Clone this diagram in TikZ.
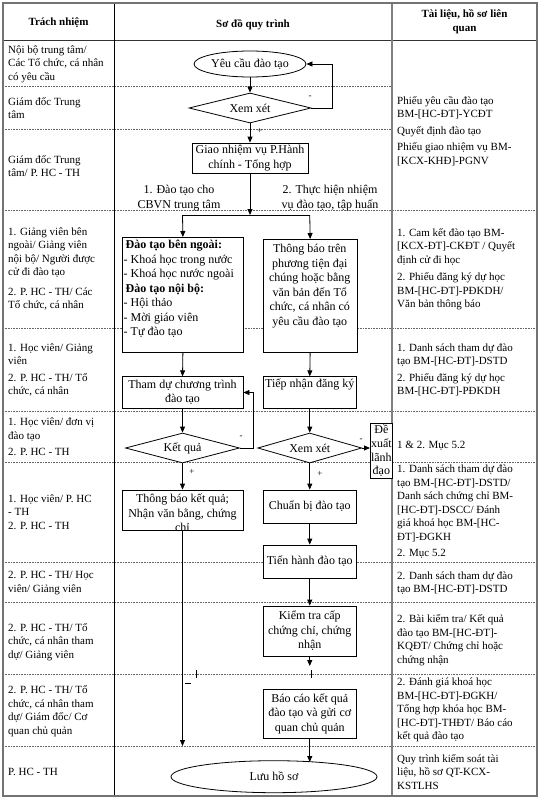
\documentclass[tikz,border=0pt]{standalone}
\usepackage{fontspec}
\setmainfont{Liberation Serif}
\usetikzlibrary{shapes.geometric,arrows.meta,calc}
\begin{document}
\begin{tikzpicture}[x=1pt,y=-1pt,
  tab/.style={font=\fontsize{11pt}{13.5pt}\selectfont, align=left, inner sep=0pt, anchor=west},
  hdr/.style={font=\fontsize{11pt}{14pt}\selectfont\bfseries, align=center, inner sep=0pt},
  flow/.style={font=\fontsize{12pt}{14.5pt}\selectfont},
  fbox/.style={flow, draw, fill=white, line width=0.8pt, align=center, inner sep=1pt},
  fdia/.style={flow, draw, fill=white, line width=0.8pt, diamond, aspect=3.5, inner sep=0pt},
  fell/.style={flow, draw, fill=white, line width=0.8pt, ellipse, inner sep=0pt},
  arr/.style={line width=0.8pt, -{Triangle[length=6pt,width=5pt]}},
  ln/.style={line width=0.8pt},
  sepline/.style={densely dotted, line width=0.6pt, black!60},
  lbl/.style={flow, inner sep=0pt, align=center},
  sgn/.style={font=\fontsize{9pt}{10pt}\selectfont, inner sep=0pt}
]
\useasboundingbox (0,0) rectangle (541,800);
\fill[white] (0,0) rectangle (541,800);

% row separators
\foreach \yy in {86,129} \draw[sepline] (3,\yy) -- (392,\yy);
\foreach \yy in {210,328,411,462,562,602,674,746} \draw[sepline] (3,\yy) -- (537,\yy);

% table frame
\draw[line width=0.6pt, black!80] (3,40) -- (537,40);
\draw[line width=0.8pt] (114,3) -- (114,796);
\draw[line width=1.2pt, black!50] (392,3) -- (392,796);
\draw[line width=1.2pt, black!55] (3,3) rectangle (537,796);

% header
\node[hdr] (h1) at (58.5,23) {Trách nhiệm};
\node[hdr] (h2) at (253,25) {Sơ đồ quy trình};
\node[hdr] (h3) at (464.5,22) {Tài liệu, hồ sơ liên\\quan};

% left column
\node[tab] (l1) at (8,64) {Nội bộ trung tâm/\\Các Tổ chức, cá nhân\\có yêu cầu};
\node[tab] (l2) at (8,108) {Giám đốc Trung\\tâm};
\node[tab] (l3) at (8,166) {Giám đốc Trung\\tâm/ P. HC - TH};
\node[tab] (l4) at (8,269) {1. Giảng viên bên\\ngoài/ Giảng viên\\nội bộ/ Người được\\cử đi đào tạo\\[6pt]2. P. HC - TH/ Các\\Tổ chức, cá nhân};
\node[tab] (l5) at (8,370) {1. Học viên/ Giảng\\viên\\[3pt]2. P. HC - TH/ Tổ\\chức, cá nhân};
\node[tab] (l6) at (8,437) {1. Học viên/ đơn vị\\đào tạo\\[3pt]2. P. HC - TH};
\node[tab] (l7) at (8,512) {1. Học viên/ P. HC\\- TH\\2. P. HC - TH};
\node[tab] (l8) at (8,583) {2. P. HC - TH/ Học\\viên/ Giảng viên};
\node[tab] (l9) at (8,642) {2. P. HC - TH/ Tổ\\chức, cá nhân tham\\dự/ Giảng viên};
\node[tab] (l10) at (8,711) {2. P. HC - TH/ Tổ\\chức, cá nhân tham\\dự/ Giám đốc/ Cơ\\quan chủ quản};
\node[tab] (l11) at (8,772) {P. HC - TH};

% right column
\node[tab] (r1) at (397,131) {Phiếu yêu cầu đào tạo\\BM-[HC-ĐT]-YCĐT\\[3pt]Quyết định đào tạo\\[3pt]Phiếu giao nhiệm vụ BM-\\{[}KCX-KHĐ]-PGNV};
\node[tab] (r4) at (397,269) {1. Cam kết đào tạo BM-\\{[}KCX-ĐT]-CKĐT / Quyết\\định cử đi học\\[4pt]2. Phiếu đăng ký dự học\\BM-[HC-ĐT]-PĐKDH/\\Văn bản thông báo};
\node[tab] (r5) at (397,370) {1. Danh sách tham dự đào\\tạo BM-[HC-ĐT]-DSTD\\[3pt]2. Phiếu đăng ký dự học\\BM-[HC-ĐT]-PĐKDH};
\node[tab] (r6) at (397,446) {1 \& 2. Mục 5.2};
\node[tab] (r7) at (397,512) {1. Danh sách tham dự đào\\tạo BM-[HC-ĐT]-DSTD/\\Danh sách chứng chỉ BM-\\{[}HC-ĐT]-DSCC/ Đánh\\giá khoá học BM-[HC-\\ĐT]-ĐGKH\\[3pt]2. Mục 5.2};
\node[tab] (r8) at (397,583) {2. Danh sách tham dự đào\\tạo BM-[HC-ĐT]-DSTD};
\node[tab] (r9) at (397,640) {2. Bài kiểm tra/ Kết quả\\đào tạo BM-[HC-ĐT]-\\KQĐT/ Chứng chỉ hoặc\\chứng nhận};
\node[tab] (r10) at (397,710) {2. Đánh giá khoá học\\BM-[HC-ĐT]-ĐGKH/\\Tổng hợp khóa học BM-\\{[}HC-ĐT]-THĐT/ Báo cáo\\kết quả đào tạo};
\node[tab] (r11) at (397,772) {Quy trình kiểm soát tài\\liệu, hồ sơ QT-KCX-\\KSTLHS};

% flow nodes
\node[fell, minimum width=112pt, minimum height=26pt] (ell1) at (250,64) {Yêu cầu đào tạo};
\node[fdia, minimum width=122pt, minimum height=30pt] (d1) at (250,108) {Xem xét};
\node[fbox, minimum width=116pt, minimum height=30pt] (giao) at (250,158) {Giao nhiệm vụ P.Hành\\chính - Tổng hợp};
\node[lbl] (lb1) at (179,198) {1. Đào tạo cho\\CBVN trung tâm};
\node[lbl] (lb2) at (330,198) {2. Thực hiện nhiệm\\vụ đào tạo, tập huấn};
\coordinate (junc) at (250,215);
\coordinate (brL) at (182.5,215);
\coordinate (brR) at (309.75,215);

\node[fbox, anchor=north west, minimum width=121pt, minimum height=115pt] (boxA) at (122,237) {};
\node[flow, anchor=north west, align=left, inner sep=0pt] (boxAt) at (123.5,240) {\hspace*{2pt}\textbf{Đào tạo bên ngoài:}\\- Khoá học trong nước\\- Khoá học nước ngoài\\\hspace*{2pt}\textbf{Đào tạo nội bộ:}\\- Hội thảo\\- Mời giáo viên\\- Tự đào tạo};
\node[fbox, anchor=north west, minimum width=93.5pt, minimum height=113pt] (boxB) at (263,239) {};
\node[flow, anchor=north, align=center, inner sep=0pt] (boxBt) at (309.75,244) {Thông báo trên\\phương tiện đại\\chúng hoặc bằng\\văn bản đến Tổ\\chức, cá nhân có\\yêu cầu đào tạo};

\node[fbox, minimum width=121pt, minimum height=31.5pt] (thamdu) at (182.5,392.5) {Tham dự chương trình\\đào tạo};
\node[fbox, minimum width=93.5pt, minimum height=31.5pt] (tiepnhan) at (309.75,392.5) {Tiếp nhận đăng ký\\\strut};

\node[fdia, minimum width=114pt, minimum height=30pt] (d2) at (182.5,448) {Kết quả};
\node[fdia, minimum width=104pt, minimum height=30pt] (d3) at (309.75,448) {Xem xét};
\node[fbox, anchor=north west, minimum width=22pt, minimum height=55pt, inner sep=0pt, font=\fontsize{12pt}{13.6pt}\selectfont] (dexuat) at (370,423) {Đề\\xuất\\lãnh\\đạo};

\node[fbox, minimum width=121pt, minimum height=40pt] (thongbao) at (182.5,510) {};
\node[lbl] (thongbaot) at (182.5,513) {Thông báo kết quả;\\Nhận văn bằng, chứng\\chỉ};
\node[fbox, minimum width=93.5pt, minimum height=33pt] (chuanbi) at (309.75,506.5) {Chuẩn bị đào tạo};
\node[fbox, minimum width=93.5pt, minimum height=33pt] (tienhanh) at (309.75,561.5) {Tiến hành đào tạo};
\node[fbox, minimum width=93.5pt, minimum height=50pt] (kiemtra) at (309.75,631) {Kiểm tra cấp\\chứng chỉ, chứng\\nhận};
\node[fbox, minimum width=93.5pt, minimum height=49pt] (baocao) at (309.75,713.5) {Báo cáo kết quả\\đào tạo và gửi cơ\\quan chủ quản};
\node[fell, minimum width=206pt, minimum height=32pt] (luu) at (274,776.7) {Lưu hồ sơ};

\coordinate (endL) at (182.5,746);
\coordinate (kEnd) at (309.75,666);
\coordinate (luuTop) at (309.75,762);

% connectors
\draw[arr] (ell1.south) -- (d1.north);
\draw[arr] (d1.east) -- ++(21,0) |- (ell1.east);
\draw[arr] (d1.south) -- (giao.north);
\draw[arr] (giao.south) -- (junc);
\draw[ln] (brL) -- (brR);
\draw[arr] (brL) -- (boxA.north);
\draw[arr] (brR) -- (boxB.north);
\draw[arr] (boxA.south) -- (thamdu.north);
\draw[arr] (boxB.south) -- (tiepnhan.north);
\draw[arr] (thamdu.south) -- (d2.north);
\draw[arr] (tiepnhan.south) -- (d3.north);
\draw[arr] (d2.east) -- ++(13,0) |- (thamdu.east);
\draw[arr] (d3.east) -- (d3.east -| dexuat.west);
\draw[arr] (d2.south) -- (thongbao.north);
\draw[arr] (d3.south) -- (chuanbi.north);
\draw[arr] (thongbao.south) -- (endL);
\draw[arr] (chuanbi.south) -- (tienhanh.north);
\draw[arr] (tienhanh.south) -- (kiemtra.north);
\draw[arr] (kiemtra.south) -- (kEnd);
\draw[arr] (baocao.south) -- (luuTop);

% small marks
\draw[ln] (196,670) -- (196,678);
\draw[ln] (311,670) -- (311,678);
\draw[line width=0.5pt] (185,683) -- (191,683);

% signs
\node[sgn] (m1) at (310,97) {-};
\node[sgn] (p1) at (260,131) {+};
\node[sgn] (m2) at (241,437) {-};
\node[sgn] (m3) at (361,440) {-};
\node[sgn] (p2) at (192,472) {+};
\node[sgn] (p3) at (320,474) {+};
\end{tikzpicture}
\end{document}
